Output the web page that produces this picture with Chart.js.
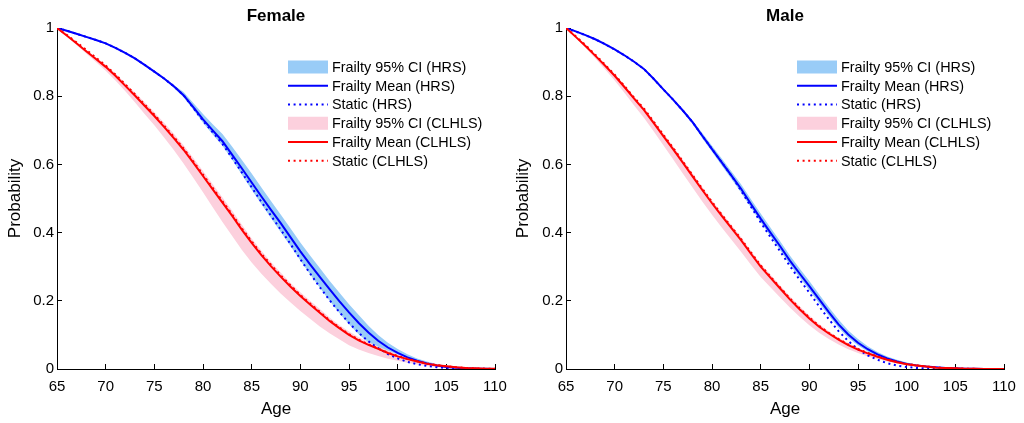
<!DOCTYPE html>
<html>
<head>
<meta charset="utf-8">
<script src="https://cdn.jsdelivr.net/npm/chart.js@4/dist/chart.umd.min.js"></script>
<style>
  body { margin: 0; background: #fff; }
  .wrap { display: flex; width: 1024px; height: 423px; }
  .wrap > div { width: 512px; height: 423px; position: relative; }
</style>
</head>
<body>
<div class="wrap">
  <div><canvas id="femaleChart" width="512" height="423"></canvas></div>
  <div><canvas id="maleChart" width="512" height="423"></canvas></div>
</div>
<script>
// ages 65..110, one value per year
const ages = [65,66,67,68,69,70,71,72,73,74,75,76,77,78,79,80,81,82,83,84,85,86,87,88,89,90,91,92,93,94,95,96,97,98,99,100,101,102,103,104,105,106,107,108,109,110];
const xTicks = [65, 70, 75, 80, 85, 90, 95, 100, 105, 110];
const yTicks = [0, 0.2, 0.4, 0.6, 0.8, 1];
const panelTitles = ["Female", "Male"];
const legendLabels = ["Frailty 95% CI (HRS)", "Frailty Mean (HRS)", "Static (HRS)",
                      "Frailty 95% CI (CLHLS)", "Frailty Mean (CLHLS)", "Static (CLHLS)"];

// Female
const femHrsMean = [1.000,0.992,0.983,0.974,0.965,0.955,0.942,0.927,0.911,0.892,0.872,0.852,0.829,0.803,0.768,0.732,0.700,0.668,0.628,0.588,0.547,0.506,0.466,0.427,0.386,0.345,0.307,0.270,0.234,0.199,0.166,0.135,0.107,0.083,0.063,0.047,0.034,0.024,0.016,0.010,0.006,0.004,0.002,0.001,0.0005,0];
const femHrsStatic = [1.000,0.992,0.983,0.974,0.965,0.955,0.942,0.927,0.911,0.892,0.872,0.852,0.829,0.803,0.766,0.728,0.694,0.660,0.618,0.576,0.533,0.490,0.449,0.408,0.366,0.322,0.280,0.240,0.202,0.167,0.135,0.106,0.081,0.061,0.044,0.031,0.021,0.014,0.009,0.005,0.003,0.002,0.001,0.0005,0,0];
const femHrsLo = [1.000,0.990,0.981,0.972,0.963,0.953,0.940,0.925,0.909,0.890,0.869,0.849,0.825,0.797,0.760,0.722,0.688,0.655,0.614,0.570,0.526,0.483,0.442,0.401,0.360,0.318,0.278,0.238,0.200,0.164,0.131,0.102,0.078,0.060,0.045,0.034,0.025,0.017,0.011,0.007,0.004,0.002,0.001,0.0005,0,0];
const femHrsHi = [1.000,0.994,0.985,0.976,0.967,0.957,0.944,0.929,0.913,0.894,0.875,0.855,0.833,0.812,0.780,0.748,0.718,0.689,0.652,0.613,0.573,0.532,0.492,0.452,0.412,0.371,0.333,0.296,0.259,0.224,0.190,0.158,0.127,0.100,0.077,0.059,0.043,0.031,0.022,0.015,0.010,0.006,0.004,0.002,0.001,0.0005];
const femClhlsMean = [1.000,0.978,0.955,0.932,0.909,0.886,0.860,0.831,0.802,0.772,0.742,0.710,0.677,0.643,0.605,0.566,0.527,0.488,0.449,0.408,0.370,0.334,0.301,0.270,0.241,0.214,0.189,0.165,0.141,0.120,0.100,0.084,0.071,0.059,0.047,0.037,0.029,0.022,0.015,0.011,0.008,0.005,0.003,0.002,0.001,0.0005];
const femClhlsStatic = [1.000,0.980,0.958,0.936,0.913,0.890,0.864,0.835,0.806,0.776,0.746,0.714,0.681,0.647,0.609,0.570,0.531,0.492,0.453,0.412,0.374,0.338,0.305,0.274,0.245,0.217,0.192,0.168,0.143,0.122,0.102,0.086,0.072,0.060,0.048,0.038,0.030,0.023,0.016,0.012,0.008,0.005,0.003,0.002,0.001,0.0005];
const femClhlsLo = [1.000,0.975,0.950,0.925,0.900,0.875,0.846,0.815,0.782,0.748,0.715,0.679,0.642,0.603,0.561,0.518,0.474,0.431,0.390,0.349,0.312,0.279,0.249,0.221,0.195,0.170,0.147,0.125,0.105,0.087,0.070,0.057,0.047,0.038,0.030,0.024,0.018,0.013,0.009,0.006,0.004,0.002,0.001,0.0005,0,0];
const femClhlsHi = [1.000,0.980,0.958,0.936,0.914,0.892,0.867,0.839,0.811,0.782,0.753,0.722,0.690,0.656,0.619,0.581,0.542,0.503,0.464,0.423,0.383,0.347,0.313,0.282,0.252,0.225,0.200,0.176,0.151,0.129,0.110,0.093,0.079,0.066,0.054,0.043,0.034,0.026,0.019,0.014,0.010,0.007,0.004,0.003,0.002,0.001];

// Male
const maleHrsMean = [1.000,0.990,0.979,0.967,0.953,0.937,0.920,0.901,0.880,0.851,0.820,0.790,0.758,0.724,0.684,0.645,0.606,0.567,0.528,0.484,0.441,0.400,0.360,0.318,0.280,0.243,0.205,0.167,0.131,0.101,0.077,0.058,0.043,0.031,0.022,0.015,0.010,0.007,0.005,0.003,0.002,0.001,0.0005,0,0,0];
const maleHrsStatic = [1.000,0.990,0.979,0.967,0.953,0.937,0.920,0.901,0.880,0.851,0.820,0.790,0.758,0.724,0.684,0.645,0.606,0.567,0.522,0.476,0.430,0.387,0.345,0.302,0.262,0.224,0.184,0.146,0.111,0.082,0.058,0.040,0.027,0.017,0.010,0.006,0.003,0.002,0.001,0,0,0,0,0,0,0];
const maleHrsLo = [1.000,0.989,0.978,0.966,0.952,0.936,0.919,0.900,0.879,0.849,0.818,0.787,0.755,0.719,0.677,0.637,0.597,0.557,0.517,0.473,0.430,0.389,0.348,0.306,0.268,0.231,0.193,0.156,0.121,0.092,0.069,0.051,0.037,0.026,0.018,0.012,0.008,0.005,0.003,0.002,0.001,0.0005,0,0,0,0];
const maleHrsHi = [1.000,0.991,0.980,0.968,0.954,0.938,0.921,0.902,0.881,0.853,0.822,0.792,0.761,0.729,0.692,0.655,0.617,0.579,0.541,0.498,0.456,0.415,0.375,0.333,0.295,0.258,0.219,0.181,0.145,0.113,0.088,0.067,0.050,0.037,0.027,0.019,0.013,0.009,0.006,0.004,0.003,0.002,0.001,0.0005,0,0];
const maleClhlsMean = [1.000,0.974,0.947,0.919,0.890,0.860,0.827,0.793,0.760,0.722,0.683,0.645,0.605,0.565,0.525,0.486,0.449,0.413,0.377,0.338,0.300,0.268,0.236,0.204,0.175,0.148,0.124,0.104,0.086,0.070,0.057,0.046,0.036,0.027,0.020,0.014,0.010,0.007,0.004,0.003,0.002,0.001,0.0005,0,0,0];
const maleClhlsStatic = [1.000,0.976,0.950,0.922,0.893,0.863,0.830,0.796,0.764,0.726,0.687,0.649,0.609,0.569,0.529,0.490,0.453,0.417,0.381,0.342,0.304,0.271,0.239,0.207,0.178,0.151,0.127,0.106,0.088,0.072,0.059,0.047,0.037,0.028,0.021,0.015,0.011,0.007,0.005,0.003,0.002,0.001,0.0005,0,0,0];
const maleClhlsLo = [1.000,0.972,0.942,0.911,0.879,0.846,0.810,0.773,0.737,0.697,0.656,0.615,0.573,0.532,0.491,0.452,0.415,0.379,0.343,0.306,0.270,0.240,0.210,0.180,0.153,0.128,0.106,0.088,0.072,0.058,0.047,0.037,0.029,0.022,0.016,0.011,0.008,0.005,0.003,0.002,0.001,0.0005,0,0,0,0];
const maleClhlsHi = [1.000,0.976,0.950,0.922,0.894,0.865,0.833,0.799,0.767,0.729,0.691,0.653,0.614,0.574,0.534,0.495,0.458,0.422,0.386,0.347,0.309,0.277,0.245,0.213,0.184,0.157,0.132,0.111,0.092,0.076,0.062,0.050,0.040,0.030,0.022,0.016,0.012,0.008,0.005,0.004,0.003,0.002,0.001,0.0005,0,0];

const FONT = '"Liberation Sans", Arial, Helvetica, sans-serif';
const BLUE = "#0000ff", RED = "#ff0000";
const BAND_BLUE = "rgb(153,204,247)", BAND_PINK = "rgb(252,208,221)";
const DOTS = [2, 3.6];

const pts = arr => ages.map((a, i) => ({ x: a, y: arr[i] }));

// legend drawn inside the plot, like the original
const insideLegend = {
  id: "insideLegend",
  afterDraw(chart, args, opts) {
    const ctx = chart.ctx;
    const styles = [
      { kind: "band", color: BAND_BLUE }, { kind: "line", color: BLUE }, { kind: "dot", color: BLUE },
      { kind: "band", color: BAND_PINK }, { kind: "line", color: RED }, { kind: "dot", color: RED }
    ];
    ctx.save();
    ctx.font = "14.4px " + FONT;
    ctx.textBaseline = "middle";
    legendLabels.forEach((label, i) => {
      const y = opts.top + i * 18.75;
      const s = styles[i];
      if (s.kind === "band") {
        ctx.fillStyle = s.color;
        ctx.fillRect(opts.left, y - 6.5, 40, 13);
      } else {
        ctx.strokeStyle = s.color;
        ctx.lineWidth = 2;
        ctx.setLineDash(s.kind === "dot" ? DOTS : []);
        ctx.beginPath();
        ctx.moveTo(opts.left, y);
        ctx.lineTo(opts.left + 40, y);
        ctx.stroke();
        ctx.setLineDash([]);
      }
      ctx.fillStyle = "#000";
      ctx.fillText(label, opts.left + 44, y + 1);
    });
    ctx.restore();
  }
};

// panel title centred over the plot area
const plotTitle = {
  id: "plotTitle",
  afterDraw(chart, args, opts) {
    const { ctx, chartArea } = chart;
    ctx.save();
    ctx.font = "bold 17px " + FONT;
    ctx.fillStyle = "#000";
    ctx.textAlign = "center";
    ctx.textBaseline = "middle";
    ctx.fillText(opts.text, (chartArea.left + chartArea.right) / 2, 16.5);
    ctx.restore();
  }
};

function makeChart(id, title, d, yWidth, padRight, yTitlePad, legendLeft) {
  const band = (lo, hi, color, ord) => [
    { data: pts(lo), borderWidth: 0, pointRadius: 0, fill: false, order: ord },
    { data: pts(hi), borderWidth: 0, pointRadius: 0, fill: "-1", backgroundColor: color, order: ord }
  ];
  const line = (arr, color, dotted, ord) => ({
    data: pts(arr), borderColor: color, borderWidth: 2, pointRadius: 0, fill: false,
    borderDash: dotted ? DOTS : [], order: ord
  });

  return new Chart(document.getElementById(id), {
    type: "line",
    data: {
      datasets: [
        ...band(d.hrsLo, d.hrsHi, BAND_BLUE, 6),
        ...band(d.clLo, d.clHi, BAND_PINK, 5),
        line(d.hrsMean, BLUE, false, 4),
        line(d.hrsStatic, BLUE, true, 3),
        line(d.clMean, RED, false, 2),
        line(d.clStatic, RED, true, 1)
      ]
    },
    options: {
      responsive: false,
      animation: false,
      devicePixelRatio: 1,
      layout: { padding: { left: 0, right: padRight, top: 28, bottom: 0 } },
      plugins: {
        legend: { display: false },
        tooltip: { enabled: false },
        insideLegend: { left: legendLeft, top: 67 },
        plotTitle: { text: title }
      },
      scales: {
        x: {
          type: "linear", min: 65, max: 110,
          afterBuildTicks: s => { s.ticks = xTicks.map(v => ({ value: v })); },
          afterFit: s => { s.height = 54; s.paddingLeft = 0; s.paddingRight = 0; },
          grid: { drawOnChartArea: false, color: "#000", tickLength: -5, lineWidth: 1 },
          border: { display: true, color: "#000", width: 1 },
          ticks: { color: "#000", font: { family: FONT, size: 15 }, padding: 13.5, maxRotation: 0 },
          title: { display: true, text: "Age", color: "#000", font: { family: FONT, size: 17 }, padding: { top: 0, bottom: 3 } }
        },
        y: {
          type: "linear", min: 0, max: 1,
          afterBuildTicks: s => { s.ticks = yTicks.map(v => ({ value: v })); },
          afterFit: s => { s.width = yWidth; s.paddingTop = 0; s.paddingBottom = 0; },
          grid: { drawOnChartArea: false, color: "#000", tickLength: -5, lineWidth: 1 },
          border: { display: true, color: "#000", width: 1 },
          ticks: { color: "#000", font: { family: FONT, size: 15 }, padding: 8,
                   callback: v => String(Number(v.toFixed(1))) },
          title: { display: true, text: "Probability", color: "#000", font: { family: FONT, size: 17 }, padding: { top: yTitlePad, bottom: 0 } }
        }
      }
    },
    plugins: [insideLegend, plotTitle]
  });
}

makeChart("femaleChart", panelTitles[0], {
  hrsMean: femHrsMean, hrsStatic: femHrsStatic, hrsLo: femHrsLo, hrsHi: femHrsHi,
  clMean: femClhlsMean, clStatic: femClhlsStatic, clLo: femClhlsLo, clHi: femClhlsHi
}, 57, 17, 5.5, 288);

makeChart("maleChart", panelTitles[1], {
  hrsMean: maleHrsMean, hrsStatic: maleHrsStatic, hrsLo: maleHrsLo, hrsHi: maleHrsHi,
  clMean: maleClhlsMean, clStatic: maleClhlsStatic, clLo: maleClhlsLo, clHi: maleClhlsHi
}, 54, 20, 1.5, 285);
</script>
</body>
</html>
